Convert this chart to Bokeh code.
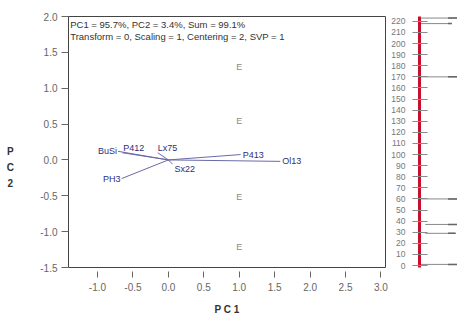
from bokeh.plotting import figure
from bokeh.models import FixedTicker, PrintfTickFormatter, Label, ColumnDataSource, Range1d
from bokeh.layouts import row
from bokeh.embed import file_html
from bokeh.resources import INLINE

# ---- data ----
var_names = ["BuSi", "P412", "Lx75", "P413", "Ol13", "Sx22", "PH3"]
pc1_load = [-0.71, -0.65, -0.15, 1.02, 1.58, 0.06, -0.66]
pc2_load = [0.12, 0.10, 0.10, 0.075, -0.02, -0.06, -0.26]

e_names = ["E", "E", "E", "E"]
e_pc1 = [1.0, 1.0, 1.0, 1.0]
e_pc2 = [1.30, 0.54, -0.51, -1.22]

x_ticks = [-1.0, -0.5, 0.0, 0.5, 1.0, 1.5, 2.0, 2.5, 3.0]
y_ticks = [-1.5, -1.0, -0.5, 0.0, 0.5, 1.0, 1.5, 2.0]

scale_ticks = list(range(0, 221, 10))
marker_vals = [223, 218, 170, 60, 37, 29, 1]

pc1_pct = 95.7
pc2_pct = 3.4
sum_pct = 99.1
info_line2 = "Transform = 0, Scaling = 1, Centering = 2, SVP = 1"
x_title = "P C 1"
y_title_chars = ["P", "C", "2"]

# ---- styles ----
FONT = "Liberation Sans"
lab_align = ["right", "left", "left", "left", "left", "left", "right"]
lab_base = ["middle", "bottom", "bottom", "middle", "middle", "top", "middle"]
lab_dx = [-1, 1, 0, 2, 2, 2, -1]

YR = (-1.5, 2.0)
H = 323

# ---- left strip holding the stacked y title ----
p0 = figure(width=22, height=H, x_range=Range1d(0, 1), y_range=Range1d(*YR),
            output_backend="svg", toolbar_location=None,
            x_axis_type=None, y_axis_type=None,
            min_border_left=0, min_border_right=0,
            min_border_top=16, min_border_bottom=56)
p0.grid.visible = False
p0.outline_line_color = None
ysrc = ColumnDataSource(dict(x=[0.45] * 3, y=[0.12, -0.10, -0.32], t=y_title_chars))
p0.text(x="x", y="y", text="t", source=ysrc, text_align="center",
        text_baseline="middle", text_font_size="10px", text_font_style="bold",
        text_color="#333333", text_font={"value": FONT})

# ---- main biplot ----
p = figure(width=366, height=H, x_range=Range1d(-1.409, 3.064),
           y_range=Range1d(*YR), output_backend="svg",
           toolbar_location=None, min_border_left=46, min_border_right=3,
           min_border_top=16, min_border_bottom=56)
p.grid.visible = False
p.outline_line_color = "#444444"

p.xaxis.ticker = FixedTicker(ticks=x_ticks)
p.yaxis.ticker = FixedTicker(ticks=y_ticks)
for ax in (p.xaxis, p.yaxis):
    ax.formatter = PrintfTickFormatter(format="%.1f")
    ax.major_label_text_font = FONT
    ax.major_label_text_font_size = "10px"
    ax.major_label_text_color = "#666666"
    ax.major_tick_line_color = "#666666"
    ax.minor_tick_line_color = None
p.xaxis.axis_line_color = None
p.xaxis.major_tick_in = -4
p.xaxis.major_tick_out = 10
p.xaxis.major_label_standoff = 5
p.xaxis.axis_label = x_title
p.xaxis.axis_label_text_font = FONT
p.xaxis.axis_label_text_font_size = "10px"
p.xaxis.axis_label_text_font_style = "bold"
p.xaxis.axis_label_text_color = "#333333"
p.xaxis.axis_label_standoff = 10
p.yaxis.axis_line_color = "#444444"
p.yaxis.major_tick_in = 0
p.yaxis.major_tick_out = 7
p.yaxis.major_label_standoff = 4

# loading vectors
src = ColumnDataSource(dict(x0=[0.0] * len(var_names), y0=[0.0] * len(var_names),
                            x=pc1_load, y=pc2_load, name=var_names,
                            align=lab_align, base=lab_base, dx=lab_dx))
p.segment(x0="x0", y0="y0", x1="x", y1="y", source=src,
          line_color="#6a6aa8", line_width=1)
p.text(x="x", y="y", text="name", source=src, text_align="align",
       text_baseline="base", x_offset="dx", text_font_size="9px",
       text_color="#2e2e7a", text_font={"value": FONT})

# E markers
esrc = ColumnDataSource(dict(x=e_pc1, y=e_pc2, t=e_names))
p.text(x="x", y="y", text="t", source=esrc, text_align="center",
       text_baseline="middle", text_font_size="9px", text_color="#8a8a8a",
       text_font={"value": FONT})

# info text
p.add_layout(Label(x=-1.385, y=1.965,
                   text=f"PC1 = {pc1_pct}%, PC2 = {pc2_pct}%, Sum = {sum_pct}%",
                   text_font=FONT, text_font_size="9.5px", text_color="#333333",
                   text_baseline="top"))
p.add_layout(Label(x=-1.385, y=1.80, text=info_line2,
                   text_font=FONT, text_font_size="9.5px", text_color="#333333",
                   text_baseline="top"))

# ---- right scale ----
p2 = figure(width=69, height=H, x_range=Range1d(0, 1),
            y_range=Range1d(-1.8, 224.4), output_backend="svg",
            toolbar_location=None, x_axis_type=None,
            min_border_left=31, min_border_right=0,
            min_border_top=15, min_border_bottom=53)
p2.grid.visible = False
p2.outline_line_color = None
p2.yaxis.ticker = FixedTicker(ticks=scale_ticks)
p2.yaxis.axis_line_color = "#c8102e"
p2.yaxis.axis_line_width = 3
p2.yaxis.major_tick_in = 8
p2.yaxis.major_tick_out = 7
p2.yaxis.major_tick_line_color = "#8a8a8a"
p2.yaxis.minor_tick_line_color = None
p2.yaxis.major_label_text_font = FONT
p2.yaxis.major_label_text_font_size = "8.5px"
p2.yaxis.major_label_text_color = "#777777"
p2.yaxis.major_label_standoff = 7

mx0 = [0, 0, 0, 0, 0.15, 0.15, 0]
mx1 = [1.0, 0.85, 1.0, 1.0, 1.0, 0.95, 1.0]
p2.segment(x0=mx0, y0=marker_vals, x1=mx1, y1=marker_vals,
           line_color="#888888", line_width=1)
p2.segment(x0=[0.75] * len(marker_vals), y0=marker_vals, x1=mx1, y1=marker_vals,
           line_color="#666666", line_width=1.5)

layout = row(p0, p, p2)
open("out.html", "w").write(file_html(layout, INLINE))
